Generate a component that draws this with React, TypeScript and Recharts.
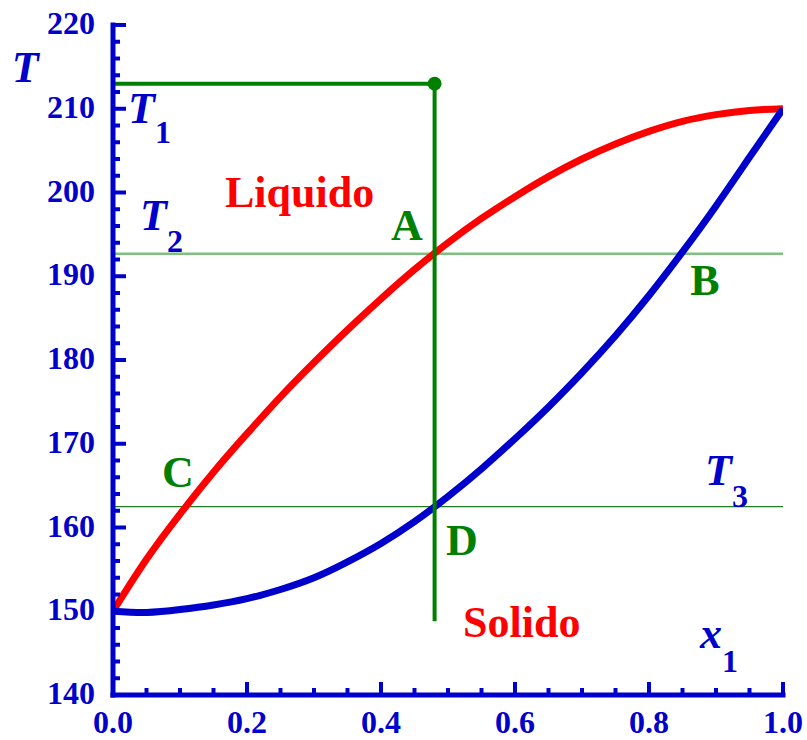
import { LineChart, Line, XAxis, YAxis, ReferenceLine, ReferenceDot } from "recharts";

// composition grid shared by both phase boundaries
const xs = [0, 0.05, 0.1, 0.15, 0.2, 0.25, 0.3, 0.35, 0.4, 0.45, 0.5, 0.55, 0.6, 0.65, 0.7, 0.75, 0.8, 0.85, 0.9, 0.95, 1];
// liquidus (red) and solidus (blue) temperatures
const liquidT = [150, 156.2, 161.6, 166.6, 171.2, 175.6, 179.7, 183.6, 187.3, 190.8, 194.0, 196.9, 199.5, 201.9, 204.0, 205.8, 207.3, 208.5, 209.3, 209.8, 210];
const solidT = [150, 149.85, 150.2, 150.75, 151.5, 152.6, 154.0, 155.9, 158.1, 160.7, 163.7, 167.0, 170.6, 174.4, 178.5, 182.9, 187.7, 192.9, 198.4, 204.2, 210];

// cooling path and tie lines
const xPath = 0.48;
const T1 = 213;
const T2 = 192.7;
const T3 = 162.5;
const pathBottom = 148.8;

const xLabels = [0, 0.2, 0.4, 0.6, 0.8, 1];
const yLabels = [140, 150, 160, 170, 180, 190, 200, 210, 220];

type Note = { x: number; y: number; text: string; sub?: string; color: string; italic?: boolean; anchor?: "start" | "middle"; dy?: number };
const notes: Note[] = [
  { x: -0.131, y: 213.2, text: "T", color: "#0000cc", italic: true, anchor: "middle" },
  { x: 0.0224, y: 208.3, text: "T", sub: "1", color: "#0000cc", italic: true, dy: 20 },
  { x: 0.0403, y: 195.5, text: "T", sub: "2", color: "#0000cc", italic: true, dy: 22 },
  { x: 0.8836, y: 165.1, text: "T", sub: "3", color: "#0000cc", italic: true, dy: 22 },
  { x: 0.8761, y: 145.6, text: "x", sub: "1", color: "#0000cc", italic: true, dy: 24 },
  { x: 0.1672, y: 198.3, text: "Liquido", color: "#ff0000" },
  { x: 0.5224, y: 146.9, text: "Solido", color: "#ff0000" },
  { x: 0.4388, y: 194.3, text: "A", color: "#008000", anchor: "middle" },
  { x: 0.8836, y: 187.8, text: "B", color: "#008000", anchor: "middle" },
  { x: 0.097, y: 164.8, text: "C", color: "#008000", anchor: "middle" },
  { x: 0.5209, y: 156.7, text: "D", color: "#008000", anchor: "middle" },
];

const BLUE = "#0000cc";
const GREEN = "#008000";
const FONT = "'Liberation Serif', 'Times New Roman', serif";

const liquidus = xs.map((x, i) => ({ x, T: liquidT[i] }));
const solidus = xs.map((x, i) => ({ x, T: solidT[i] }));
const topSeg = [{ x: 0, T: T1 }, { x: xPath, T: T1 }];
const downSeg = [{ x: xPath, T: T1 }, { x: xPath, T: pathBottom }];

// minor ticks between the labelled ones
function withMinor(major: number[], parts: number) {
  const out: number[] = [];
  for (let i = 0; i < major.length - 1; i++) {
    const step = (major[i + 1] - major[i]) / parts;
    for (let k = 0; k < parts; k++) out.push(major[i] + k * step);
  }
  out.push(major[major.length - 1]);
  return out;
}
const xTicks = withMinor(xLabels, 4);
const yTicks = withMinor(yLabels, 5);

const axisStyle = { stroke: BLUE, strokeWidth: 5, strokeLinecap: "square" as const };

function AxisTick(props: any) {
  const { x, y, payload, side } = props;
  const v = payload.value as number;
  const horiz = side === "bottom" || side === "top";
  const major = horiz ? xLabels.some((m) => Math.abs(m - v) < 1e-6) : yLabels.some((m) => Math.abs(m - v) < 1e-6);
  const len = major ? 13 : 7;
  let line;
  if (side === "bottom") line = <line x1={x} y1={y} x2={x} y2={y - len} />;
  else if (side === "top") line = <line x1={x} y1={y} x2={x} y2={y + len} />;
  else if (side === "left") line = <line x1={x} y1={y} x2={x + len} y2={y} />;
  else line = <line x1={x} y1={y} x2={x - len} y2={y} />;
  return (
    <g stroke={BLUE} strokeWidth={4}>
      {line}
      {major && side === "bottom" && (
        <text x={x} y={y + 38} textAnchor="middle" stroke="none" fill={BLUE} fontFamily={FONT} fontWeight="bold" fontSize={32}>
          {v.toFixed(1)}
        </text>
      )}
      {major && side === "left" && (
        <text x={x - 18} y={y + 9} textAnchor="end" stroke="none" fill={BLUE} fontFamily={FONT} fontWeight="bold" fontSize={32}>
          {v}
        </text>
      )}
    </g>
  );
}

function NoteText(props: any) {
  const { cx, cy, note } = props;
  const n = note as Note;
  return (
    <text x={cx} y={cy} textAnchor={n.anchor ?? "start"} fill={n.color} fontFamily={FONT} fontWeight="bold">
      <tspan fontSize={44} fontStyle={n.italic ? "italic" : "normal"}>{n.text}</tspan>
      {n.sub && <tspan fontSize={32} dy={n.dy}>{n.sub}</tspan>}
    </text>
  );
}

export default function App() {
  return (
    <div style={{ position: "absolute", left: 0, top: 0, background: "#fff" }}>
      <LineChart width={807} height={740} margin={{ top: 25, right: 24, bottom: 0, left: 0 }}>
        <XAxis type="number" dataKey="x" domain={[0, 1]} ticks={xTicks} interval={0} height={45}
          tickSize={0} tickMargin={0} axisLine={axisStyle} tickLine={false} allowDataOverflow
          tick={(p: any) => <AxisTick {...p} side="bottom" />} />
        <XAxis xAxisId="top" orientation="top" type="number" dataKey="x" domain={[0, 1]} ticks={xTicks} interval={0} height={0}
          tickSize={0} tickMargin={0} axisLine={axisStyle} tickLine={false} allowDataOverflow
          tick={(p: any) => <AxisTick {...p} side="top" />} />
        <YAxis type="number" domain={[140, 220]} ticks={yTicks} interval={0} width={113}
          tickSize={0} tickMargin={0} axisLine={axisStyle} tickLine={false} allowDataOverflow
          tick={(p: any) => <AxisTick {...p} side="left" />} />
        <YAxis yAxisId="right" orientation="right" type="number" domain={[140, 220]} ticks={yTicks} interval={0} width={0}
          tickSize={0} tickMargin={0} axisLine={axisStyle} tickLine={false} allowDataOverflow
          tick={(p: any) => <AxisTick {...p} side="right" />} />

        <ReferenceLine y={T2} stroke="#7fbf7f" strokeWidth={2.5} />
        <ReferenceLine y={T3} stroke="#1f7f1f" strokeWidth={1.3} />

        <Line data={liquidus} dataKey="T" type="natural" stroke="#ff0000" strokeWidth={7} dot={false} isAnimationActive={false} />
        <Line data={solidus} dataKey="T" type="natural" stroke={BLUE} strokeWidth={7} dot={false} isAnimationActive={false} />
        <Line data={topSeg} dataKey="T" stroke={GREEN} strokeWidth={4} dot={false} isAnimationActive={false} />
        <Line data={downSeg} dataKey="T" stroke={GREEN} strokeWidth={4} dot={false} isAnimationActive={false} />
        <ReferenceDot x={xPath} y={T1} r={7} fill={GREEN} stroke="none" />

        {notes.map((n, i) => (
          <ReferenceDot key={i} x={n.x} y={n.y} r={0} ifOverflow="visible"
            shape={(p: any) => <NoteText {...p} note={n} />} />
        ))}
      </LineChart>
    </div>
  );
}
